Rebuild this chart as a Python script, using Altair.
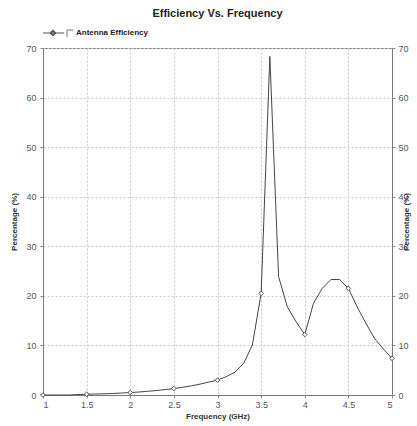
import altair as alt
import pandas as pd

freq = [1.0, 1.1, 1.2, 1.3, 1.4, 1.5, 1.6, 1.7, 1.8, 1.9,
        2.0, 2.1, 2.2, 2.3, 2.4, 2.5, 2.6, 2.7, 2.8, 2.9,
        3.0, 3.1, 3.2, 3.3, 3.4, 3.5, 3.6, 3.7, 3.8, 3.9,
        4.0, 4.1, 4.2, 4.3, 4.4, 4.5, 4.6, 4.7, 4.8, 4.9, 5.0]
eff = [0.0, 0.0, 0.0, 0.0, 0.1, 0.15, 0.2, 0.25, 0.3, 0.4,
       0.5, 0.6, 0.75, 0.9, 1.1, 1.3, 1.55, 1.85, 2.2, 2.6,
       3.0, 3.7, 4.6, 6.4, 10.1, 20.5, 68.3, 23.9, 17.8, 14.8,
       12.2, 18.5, 21.5, 23.3, 23.3, 21.5, 17.8, 14.5, 11.4, 9.3, 7.4]
marker_freqs = [1.0, 1.5, 2.0, 2.5, 3.0, 3.5, 4.0, 4.5, 5.0]
x_ticks = [1, 1.5, 2, 2.5, 3, 3.5, 4, 4.5, 5]
y_ticks = [0, 10, 20, 30, 40, 50, 60, 70]
series_name = "Antenna Efficiency"

df = pd.DataFrame({"freq": freq, "eff": eff})
mk = df[df["freq"].round(2).isin(marker_freqs)]
one = pd.DataFrame({"k": [0]})

FONT = "Liberation Sans"

x_enc = alt.X("freq:Q", scale=alt.Scale(domain=[1, 5], nice=False, zero=False),
              axis=alt.Axis(values=x_ticks, format="~g", title="Frequency (GHz)",
                            grid=True, gridDash=[2, 2], gridColor="#c8c8c8",
                            labelColor="#555", labelFontSize=9, labelFont=FONT,
                            titleFont=FONT, titleFontSize=8, titleFontWeight="bold",
                            titleColor="#333", tickSize=3, tickColor="#888",
                            domainColor="#777", labelPadding=2, titlePadding=3))

line = alt.Chart(df).mark_line(color="#444", strokeWidth=1).encode(
    x=x_enc,
    y=alt.Y("eff:Q", scale=alt.Scale(domain=[0, 70], nice=False),
            axis=alt.Axis(values=y_ticks, title="Percentage (%)", orient="left",
                          grid=True, gridDash=[2, 2], gridColor="#c8c8c8",
                          labelColor="#555", labelFontSize=9, labelFont=FONT,
                          titleFont=FONT, titleFontSize=8, titleFontWeight="bold",
                          titleColor="#333", tickSize=3, tickColor="#888",
                          domainColor="#777", labelPadding=4, titlePadding=7))
)

points = alt.Chart(mk).mark_point(shape="diamond", filled=True, fill="#f4f4f4",
                                  stroke="#555", strokeWidth=1, size=22, opacity=1).encode(
    x=x_enc,
    y=alt.Y("eff:Q", scale=alt.Scale(domain=[0, 70], nice=False),
            axis=alt.Axis(values=y_ticks, title="Percentage (%)", orient="right",
                          titleAngle=270,
                          grid=False, labelColor="#555", labelFontSize=9, labelFont=FONT,
                          titleFont=FONT, titleFontSize=8, titleFontWeight="bold",
                          titleColor="#333", tickSize=3, tickColor="#888",
                          domainColor="#777", labelPadding=3, titlePadding=2))
)

leg_line = alt.Chart(one).mark_rule(color="#555", strokeWidth=1).encode(
    x=alt.value(0), x2=alt.value(21), y=alt.value(-15))
leg_pt = alt.Chart(one).mark_point(shape="diamond", filled=True, fill="#f4f4f4",
                                   stroke="#555", size=18, opacity=1).encode(
    x=alt.value(10), y=alt.value(-15))
leg_box_v = alt.Chart(one).mark_rule(color="#777", strokeWidth=1).encode(
    x=alt.value(24), y=alt.value(-18), y2=alt.value(-11))
leg_box_h = alt.Chart(one).mark_rule(color="#777", strokeWidth=1).encode(
    x=alt.value(24), x2=alt.value(30), y=alt.value(-18))
leg_text = alt.Chart(one).mark_text(align="left", baseline="middle", font=FONT,
                                    fontSize=8, fontWeight="bold", color="#222").encode(
    x=alt.value(33), y=alt.value(-15), text=alt.value(series_name))

chart = alt.layer(line, points, leg_line, leg_pt, leg_box_v, leg_box_h, leg_text).resolve_scale(
    y="independent"
).properties(
    width=349, height=347,
    title=alt.TitleParams("Efficiency Vs. Frequency", font=FONT, fontSize=11,
                          fontWeight="bold", color="#222", anchor="middle", offset=8),
    autosize=alt.AutoSizeParams(type="none"),
    padding={"left": 43, "top": 48, "right": 25, "bottom": 31},
).configure_view(stroke="#777", strokeWidth=1)

chart.save("out.html", embed_options={"renderer": "svg", "actions": False})
